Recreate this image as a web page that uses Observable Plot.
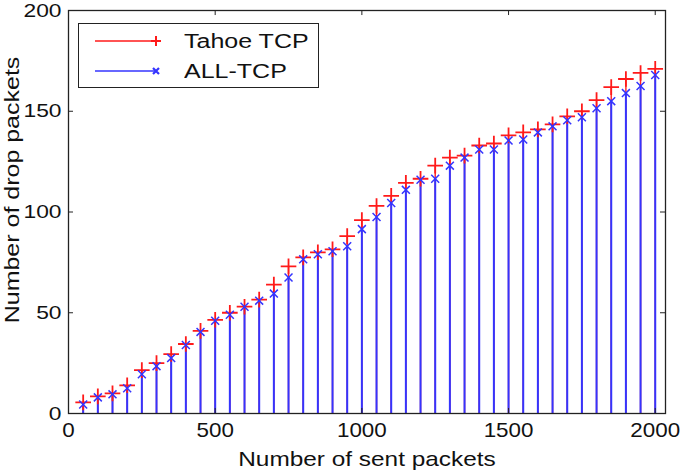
<!DOCTYPE html>
<html>
<head>
<meta charset="utf-8">
<script src="https://cdn.jsdelivr.net/npm/d3@7"></script>
<script src="https://cdn.jsdelivr.net/npm/@observablehq/plot@0.6"></script>
<style>
  html, body { margin: 0; padding: 0; background: #fff; }
  #wrap { position: relative; width: 685px; height: 472px; font-family: "Liberation Sans", Arial, sans-serif; }
  #legend { position: absolute; left: 78px; top: 23px; width: 241px; height: 65px; border: 1.3px solid #222; background: #fff; box-sizing: border-box; }
  .row { position: absolute; left: 16px; height: 24px; display: flex; align-items: center; font-size: 20px; color: #111; }
  .row svg { margin-right: 23px; }
  .row span { display: inline-block; transform: scale(1.25, 1); transform-origin: left center; }
</style>
</head>
<body>
<div id="wrap"></div>
<script>
const sent = [50,100,150,200,250,300,350,400,450,500,550,600,650,700,750,800,850,900,950,1000,
  1050,1100,1150,1200,1250,1300,1350,1400,1450,1500,1550,1600,1650,1700,1750,1800,1850,1900,1950,2000];
const tahoe = [5.5,8.5,10,14,21.5,25,29.5,34.5,41,46.5,50,53,56.5,64,73,77.5,80,81.5,88,96,
  103,108,114.5,116.5,123,127,128,133,134,138,139.5,141,143.5,147.5,150,155.5,162,166,169,171];
const allTcp = [4.5,8,9.5,12.5,19.5,23.5,27.5,34,40.5,46,49,53,56,59.5,67.5,76.5,79,80.5,83,91.5,
  97.5,104.5,111,116,116.5,123,127,131,131,135.5,136,139.5,142.5,145.5,147,151.5,155,159,162.5,168];
const xTicks = [0,500,1000,1500,2000];
const yTicks = [0,50,100,150,200];
const seriesNames = ["Tahoe TCP", "ALL-TCP"];

const rowsT = sent.map((x, i) => ({x, y: tahoe[i]}));
const rowsA = sent.map((x, i) => ({x, y: allTcp[i]}));

const xMax = 2035;
const chart = Plot.plot({
  width: 685,
  height: 472,
  marginLeft: 68,
  marginRight: 20,
  marginTop: 10,
  marginBottom: 59,
  style: {fontFamily: "'Liberation Sans', Arial, sans-serif", background: "#fff", color: "#111"},
  x: {domain: [0, xMax], label: null},
  y: {domain: [0, 200], label: null},
  marks: [
    Plot.ruleX(rowsT, {x: "x", y1: 0, y2: "y", stroke: "#ff2020", strokeWidth: 1.4}),
    Plot.ruleX(rowsA, {x: "x", y1: 0, y2: "y", stroke: "#3434ff", strokeWidth: 2}),
    Plot.dot(rowsT, {x: "x", y: "y", symbol: "plus", r: 5.1, stroke: "#ff1a1a", strokeWidth: 1.8}),
    Plot.dot(rowsA, {x: "x", y: "y", symbol: "times", r: 3.7, stroke: "#3434ff", strokeWidth: 1.5}),
    Plot.ruleX(xTicks, {x: d => d, y1: 0, y2: 2.5, stroke: "#222"}),
    Plot.ruleX(xTicks, {x: d => d, y1: 200, y2: 197.5, stroke: "#222"}),
    Plot.ruleY(yTicks, {y: d => d, x1: 0, x2: 17, stroke: "#222"}),
    Plot.ruleY(yTicks, {y: d => d, x1: xMax, x2: xMax - 17, stroke: "#222"}),
    Plot.frame({stroke: "#222", strokeWidth: 1.3}),
    Plot.axisX({ticks: xTicks, tickSize: 0, tickPadding: 9, fontSize: 20, tickFormat: d => String(d),
      label: "Number of sent packets", labelAnchor: "center", labelOffset: 52, labelArrow: "none"}),
    Plot.axisY({ticks: yTicks, tickSize: 0, tickPadding: 7, fontSize: 19, tickFormat: d => String(d),
      label: "Number of drop packets", labelAnchor: "center", labelOffset: 64, labelArrow: "none"})
  ]
});
const svg = d3.select(chart);
svg.selectAll("[aria-label='x-axis label'] text, [aria-label='y-axis label'] text").attr("font-size", 20);
// wide glyphs as in the reference: stretch each text along its own direction
function stretch(sel, s) {
  sel.each(function() {
    const x = +this.getAttribute("x") || 0, y = +this.getAttribute("y") || 0;
    const t = this.getAttribute("transform") || "";
    this.setAttribute("transform", `${t} translate(${x},${y}) scale(${s},1) translate(${-x},${-y})`);
  });
}
stretch(svg.selectAll("[aria-label='x-axis tick label'] text"), 1.12);
stretch(svg.selectAll("[aria-label='y-axis tick label'] text"), 1.2);
stretch(svg.selectAll("[aria-label='x-axis label'] text"), 1.22);
svg.selectAll("[aria-label='y-axis label'] text").each(function() {
  const t = this.getAttribute("transform") || "";
  this.setAttribute("transform", `translate(0,-22) ${t}`);
});
stretch(svg.selectAll("[aria-label='y-axis label'] text"), 1.25);

const wrap = document.getElementById("wrap");
wrap.appendChild(chart);

const legend = document.createElement("div");
legend.id = "legend";
const colors = ["#ff1a1a", "#3434ff"];
seriesNames.forEach((name, i) => {
  const row = document.createElement("div");
  row.className = "row";
  row.style.top = (5 + i * 30) + "px";
  const ns = "http://www.w3.org/2000/svg";
  const s = document.createElementNS(ns, "svg");
  s.setAttribute("width", 66); s.setAttribute("height", 16);
  const ln = document.createElementNS(ns, "line");
  ln.setAttribute("x1", 0); ln.setAttribute("x2", 62); ln.setAttribute("y1", 8); ln.setAttribute("y2", 8);
  ln.setAttribute("stroke", colors[i]); ln.setAttribute("stroke-width", 1.3);
  s.appendChild(ln);
  const m = document.createElementNS(ns, "path");
  m.setAttribute("d", i === 0 ? "M56,8H66M61,3V13" : "M58,5L64,11M58,11L64,5");
  m.setAttribute("stroke", colors[i]); m.setAttribute("stroke-width", i === 0 ? 2 : 2.2);
  s.appendChild(m);
  row.appendChild(s);
  const t = document.createElement("span");
  t.textContent = name;
  row.appendChild(t);
  legend.appendChild(row);
});
wrap.appendChild(legend);
</script>
</body>
</html>
